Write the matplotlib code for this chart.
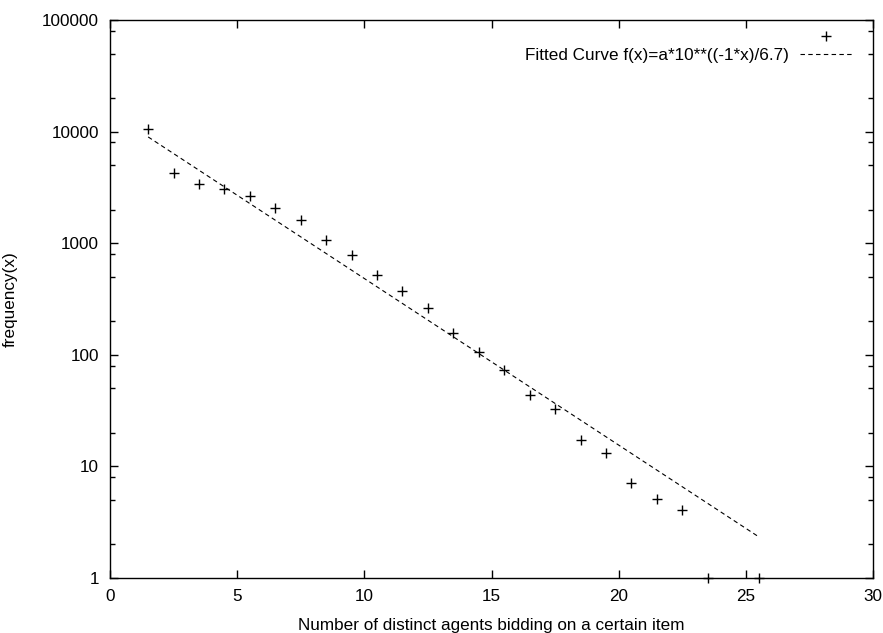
import numpy as np
import matplotlib
matplotlib.use("Agg")
import matplotlib.pyplot as plt
from matplotlib.ticker import LogLocator, NullFormatter, FixedLocator

# data
agents = [1.5, 2.5, 3.5, 4.5, 5.5, 6.5, 7.5, 8.5, 9.5, 10.5, 11.5, 12.5,
          13.5, 14.5, 15.5, 16.5, 17.5, 18.5, 19.5, 20.5, 21.5, 22.5, 23.5, 25.5]
freq = [10550, 4260, 3390, 3060, 2640, 2070, 1610, 1070, 784, 519, 373, 263,
        157, 106, 73, 43.6, 32.7, 17.2, 13.2, 7.1, 5.1, 4.07, 1, 1]
a = 15000
decay = 6.7

plt.rcParams['font.family'] = ['Liberation Sans', 'DejaVu Sans']
fs = 12.3

fig = plt.figure(figsize=(8.83, 6.33), dpi=100)
ax = fig.add_axes([110/883, 1-578/633, (873-110)/883, (578-20)/633])

x = np.array(agents)
p1, = ax.plot(agents, freq, linestyle='none', marker='+', markersize=7,
              markeredgewidth=1, color='black', clip_on=False)
xf = np.linspace(x[0], x[-1], 200)
p2, = ax.plot(xf, a*10**((-1*xf)/decay), linestyle=(0, (4, 3)), color='black',
              linewidth=0.8)

ax.set_yscale('log')
ax.set_xlim(0, 30)
ax.set_ylim(1, 100000)
ax.xaxis.set_major_locator(FixedLocator([0, 5, 10, 15, 20, 25, 30]))
ax.yaxis.set_major_locator(FixedLocator([1, 10, 100, 1000, 10000, 100000]))
ax.yaxis.set_minor_locator(LogLocator(base=10, subs=[2, 5, 8]))
ax.yaxis.set_minor_formatter(NullFormatter())
ax.set_yticklabels(['1', '10', '100', '1000', '10000', '100000'])

ax.tick_params(which='major', direction='in', length=6, width=1,
               top=True, right=True, labelsize=fs, pad=8)
ax.tick_params(which='minor', direction='in', length=3.5, width=1,
               top=True, right=True)
for s in ax.spines.values():
    s.set_linewidth(1)

ax.set_xlabel("Number of distinct agents bidding on a certain item", fontsize=fs)
ax.set_ylabel("frequency(x)", fontsize=fs)
ax.xaxis.set_label_coords(0.5, -0.072)
ax.yaxis.set_label_coords(-0.121, 0.5)

ax.legend([p1, p2], ['', 'Fitted Curve f(x)=a*10**((-1*x)/6.7)'],
          loc='upper right', bbox_to_anchor=(852/883, 1-30/633),
          bbox_transform=fig.transFigure, frameon=False, fontsize=fs,
          borderpad=0, borderaxespad=0, handlelength=3.05, markerfirst=False,
          handletextpad=0.65, labelspacing=0.15)

fig.savefig("out.png", dpi=100)
